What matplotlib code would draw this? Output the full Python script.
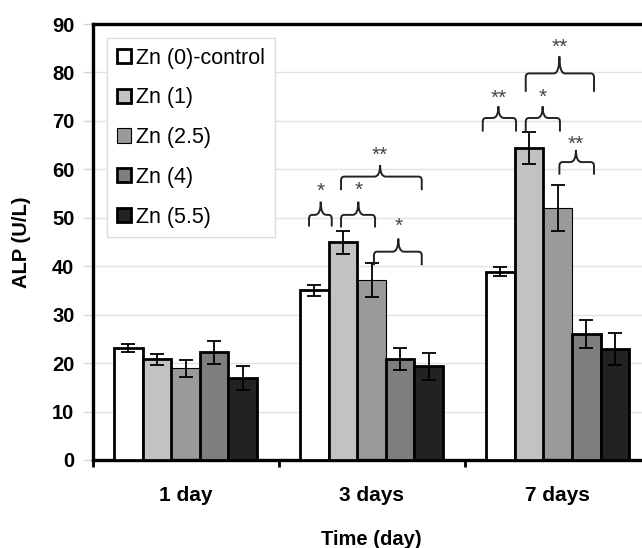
import matplotlib
matplotlib.use('Agg')
import matplotlib.pyplot as plt
from matplotlib.path import Path
from matplotlib.patches import PathPatch
import numpy as np

plt.rcParams['font.family'] = ['Liberation Sans', 'DejaVu Sans']

# ── data ────────────────────────────────────────────────
days = ['1 day', '3 days', '7 days']
series = ['Zn (0)-control', 'Zn (1)', 'Zn (2.5)', 'Zn (4)', 'Zn (5.5)']
zn0 = [23.1, 35.0, 38.9]
zn1 = [20.8, 44.9, 64.5]
zn25 = [18.9, 37.2, 52.0]
zn4 = [22.2, 20.9, 26.0]
zn55 = [17.0, 19.3, 22.9]
err0 = [0.9, 1.1, 1.0]
err1 = [1.1, 2.3, 3.3]
err25 = [1.7, 3.5, 4.7]
err4 = [2.4, 2.3, 2.9]
err55 = [2.5, 2.8, 3.3]

values = [zn0, zn1, zn25, zn4, zn55]
errors = [err0, err1, err25, err4, err55]
colors = ['#ffffff', '#c2c2c2', '#9a9a9a', '#7e7e7e', '#222222']
edge_w = [2.0, 2.0, 0.8, 2.0, 2.0]

# significance braces: (group, left, right, tip, y_line, y_end, y_tip, y_star, label)
braces = [
    (1, -0.336, -0.214, -0.273, 50.6, 48.2, 53.3, 56.8, '*'),
    (1, -0.164, 0.019, -0.071, 50.6, 48.0, 53.3, 57.0, '*'),
    (1, -0.164, 0.270, 0.046, 58.5, 55.7, 60.9, 64.1, '**'),
    (1, 0.013, 0.270, 0.144, 43.0, 40.2, 45.7, 49.5, '*'),
    (2, -0.402, -0.223, -0.318, 70.6, 67.8, 73.0, 76.0, '**'),
    (2, -0.171, 0.013, -0.080, 70.6, 67.8, 73.0, 76.2, '*'),
    (2, -0.171, 0.196, 0.010, 79.8, 76.0, 83.3, 86.4, '**'),
    (2, 0.010, 0.196, 0.099, 61.5, 58.9, 64.0, 66.4, '**'),
]


def draw_brace(ax, xl, xr, xt, yh, ye, yt):
    rx, ry, cw = 0.018, 0.8, 0.03
    verts = [(xl, ye), (xl, yh - ry), (xl, yh), (xl + rx, yh),
             (xt - cw, yh), (xt, yh), (xt, yt),
             (xt, yh), (xt + cw, yh),
             (xr - rx, yh), (xr, yh), (xr, yh - ry), (xr, ye)]
    codes = [Path.MOVETO, Path.LINETO, Path.CURVE3, Path.CURVE3,
             Path.LINETO, Path.CURVE3, Path.CURVE3,
             Path.CURVE3, Path.CURVE3,
             Path.LINETO, Path.CURVE3, Path.CURVE3, Path.LINETO]
    ax.add_patch(PathPatch(Path(verts, codes), fill=False, lw=1.4,
                           edgecolor='#222222', capstyle='butt', zorder=5))


fig = plt.figure(figsize=(6.42, 5.48), dpi=100)
ax = fig.add_axes([0.1441, 0.1606, 0.8692, 0.7956])

x = np.arange(len(days))
w = 0.154
for i, (vals, errs) in enumerate(zip(values, errors)):
    ax.bar(x + (i - 2) * w, vals, w, color=colors[i], edgecolor='black',
           linewidth=edge_w[i], label=series[i],
           zorder=2 if edge_w[i] < 1 else 3)
    ax.errorbar(x + (i - 2) * w, vals, yerr=errs, fmt='none', ecolor='black',
                elinewidth=1.3, capsize=4.8, capthick=1.3, zorder=4)

for g, xl, xr, xt, yh, ye, yt, ys, lab in braces:
    draw_brace(ax, g + xl, g + xr, g + xt, yh, ye, yt)
    ax.annotate(lab, (g + xt, ys), xytext=(0, -8.5), textcoords='offset points',
                ha='center', va='baseline', fontsize=15, color='#444444',
                zorder=6)

ax.set_xlim(-0.5, 2.5)
ax.set_ylim(0, 90)
ax.set_yticks(np.arange(0, 91, 10))
ax.yaxis.grid(True, color='#e2e2e2', lw=1.0, zorder=0)
ax.set_axisbelow(True)

ax.set_xticks(x)
ax.set_xticklabels(days, fontsize=15, fontweight='bold')
ax.set_xticks([-0.5, 0.5, 1.5], minor=True)
ax.tick_params(axis='x', which='major', length=0, pad=19)
ax.tick_params(axis='x', which='minor', length=5, width=2, color='black')
ax.tick_params(axis='y', length=7, width=1, color='#d8d8d8', pad=6,
               labelsize=14.5)
for t in ax.get_yticklabels():
    t.set_fontweight('bold')

for s in ['left', 'bottom', 'top']:
    ax.spines[s].set_linewidth(2.4)
ax.spines['right'].set_visible(False)

ax.set_xlabel('Time (day)', fontsize=14.5, fontweight='bold', labelpad=18)
ax.set_ylabel('ALP (U/L)', fontsize=14.5, fontweight='bold', labelpad=15)

leg = ax.legend(loc='upper left', bbox_to_anchor=(0.026, 0.968),
                borderaxespad=0, fontsize=15.5, handlelength=0.65,
                handleheight=0.65, handletextpad=0.25, labelspacing=0.87,
                fancybox=False, framealpha=1, edgecolor='#dddddd',
                borderpad=0.45)
leg.get_frame().set_linewidth(1.0)

fig.savefig('out.png', dpi=100)
